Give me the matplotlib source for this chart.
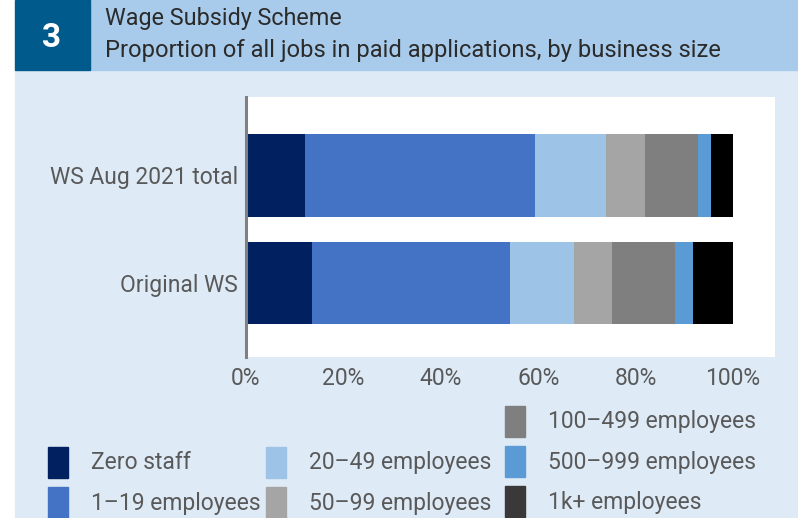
import matplotlib.pyplot as plt
from matplotlib.patches import Rectangle, Patch

plt.rcParams['font.family'] = ['Roboto', 'DejaVu Sans']

# data (% of jobs in paid applications)
rows = ['Original WS', 'WS Aug 2021 total']
sizes = ['Zero staff', '1\u201319 employees', '20\u201349 employees', '50\u201399 employees',
         '100\u2013499 employees', '500\u2013999 employees', '1k+ employees']
original_ws = [13.6, 40.5, 13.2, 7.8, 13.0, 3.7, 8.2]
ws_aug_2021 = [12.1, 47.3, 14.6, 8.0, 10.7, 2.7, 4.6]
colors = ['#002060', '#4472C4', '#9DC3E6', '#A5A5A5', '#7F7F7F', '#5B9BD5', '#000000']
legend_colors = ['#002060', '#4472C4', '#9DC3E6', '#A5A5A5', '#7F7F7F', '#5B9BD5', '#3A3838']
xticks = [0, 20, 40, 60, 80, 100]

W, H = 798, 518
fig = plt.figure(figsize=(W / 100, H / 100), dpi=100)
fig.patch.set_facecolor('white')

# header + panel backgrounds
def box(x0, y0, x1, y1, c):
    fig.patches.append(Rectangle((x0 / W, 1 - y1 / H), (x1 - x0) / W, (y1 - y0) / H,
                                 transform=fig.transFigure, color=c, zorder=0))

box(15, 70, W, H, '#DEEBF7')
box(90, 0, W, 70, '#A8CBEB')
box(15, 0, 90, 70, '#015A8C')
fig.text(52 / W, 1 - 38 / H, '3', color='white', fontsize=24, fontweight='bold',
         ha='center', va='center')
fig.text(105 / W, 1 - 18 / H, 'Wage Subsidy Scheme', color='#2b2b2b', fontsize=16.8,
         ha='left', va='center')
fig.text(105 / W, 1 - 50 / H, 'Proportion of all jobs in paid applications, by business size',
         color='#2b2b2b', fontsize=17.1, ha='left', va='center')

ax = fig.add_axes([246 / W, 1 - 357 / H, 529 / W, 260 / H])
ax.set_zorder(2)
ax.set_facecolor('white')
data = [original_ws, ws_aug_2021]
handles = []
for j, name in enumerate(sizes):
    vals = [d[j] for d in data]
    lefts = [sum(d[:j]) for d in data]
    ax.barh(range(len(rows)), vals, left=lefts, height=0.77, color=colors[j], label=name)
    handles.append(Patch(color=legend_colors[j], label=name))

ax.set_xlim(0, 108.6)
ax.set_ylim(-0.69, 1.73)
ax.set_yticks(range(len(rows)))
ax.set_yticklabels(rows)
ax.set_xticks(xticks)
ax.set_xticklabels([f'{t}%' for t in xticks])
ax.tick_params(length=0, labelsize=16.5, colors='#595959')
ax.tick_params(axis='y', pad=6)
ax.tick_params(axis='x', pad=7)
for s in ['top', 'right', 'bottom']:
    ax.spines[s].set_visible(False)
ax.spines['left'].set_color('#808080')
ax.spines['left'].set_linewidth(2.2)

# legend in three columns, bottom aligned
groups = [(handles[0:2], 48, 446.5), (handles[2:4], 266, 446.5), (handles[4:7], 505, 405.5)]
for hs, x0, y0 in groups:
    leg = fig.legend(handles=hs, loc='upper left', bbox_to_anchor=(x0 / W, 1 - y0 / H),
                     frameon=False, fontsize=16.5, labelcolor='#595959',
                     handlelength=0.87, handleheight=1.71, handletextpad=1.0,
                     labelspacing=0.39, borderpad=0, borderaxespad=0)
    leg.set_zorder(3)

fig.savefig('out.png', dpi=100)
